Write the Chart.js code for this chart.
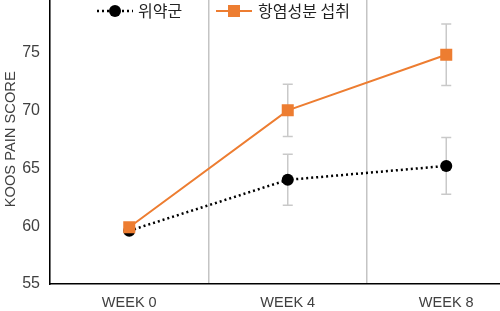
<!DOCTYPE html>
<html>
<head>
<meta charset="utf-8">
<script src="https://cdn.jsdelivr.net/npm/chart.js@4/dist/chart.umd.min.js"></script>
<style>
  html, body { margin: 0; padding: 0; background: #fff; overflow: hidden; }
  #wrap { position: absolute; left: 0; top: -25px; width: 534px; height: 336px; }
</style>
</head>
<body>
<div id="wrap"><canvas id="mycanvas"></canvas></div>
<script>
const weeks = ['WEEK 0', 'WEEK 4', 'WEEK 8'];
const placeboLabel = '위약군';
const placebo = [59.6, 64.0, 65.2];
const placeboErr = [0.3, 2.2, 2.45];
const treatLabel = '항염성분 섭취';
const treat = [59.9, 70.0, 74.8];
const treatErr = [0.4, 2.25, 2.65];
const yTicks = [55, 60, 65, 70, 75, 80];

const ORANGE = '#ED7D31';
const FONT = '"Liberation Sans", Arial, sans-serif';

// error bars, drawn under the lines
const errorBars = {
    id: 'errorBars',
    beforeDatasetsDraw(chart) {
        const ctx = chart.ctx;
        const x = chart.scales.x, y = chart.scales.y;
        const sets = [[placebo, placeboErr], [treat, treatErr]];
        ctx.save();
        ctx.strokeStyle = '#c9c9c9';
        ctx.lineWidth = 1.5;
        sets.forEach(function (s) {
            s[0].forEach(function (v, i) {
                const px = x.getPixelForValue(i);
                const top = y.getPixelForValue(v + s[1][i]);
                const bot = y.getPixelForValue(v - s[1][i]);
                ctx.beginPath();
                ctx.moveTo(px, top); ctx.lineTo(px, bot);
                ctx.moveTo(px - 5, top); ctx.lineTo(px + 5, top);
                ctx.moveTo(px - 5, bot); ctx.lineTo(px + 5, bot);
                ctx.stroke();
            });
        });
        ctx.restore();
    }
};

// legend drawn inside the plot, like the original figure
const innerLegend = {
    id: 'innerLegend',
    afterDraw(chart) {
        const ctx = chart.ctx;
        const ly = 36;
        ctx.save();
        // placebo
        ctx.strokeStyle = '#000';
        ctx.lineWidth = 2.5;
        ctx.setLineDash([2, 3]);
        ctx.beginPath(); ctx.moveTo(97, ly); ctx.lineTo(133, ly); ctx.stroke();
        ctx.setLineDash([]);
        ctx.fillStyle = '#000';
        ctx.beginPath(); ctx.arc(115, ly, 6, 0, Math.PI * 2); ctx.fill();
        // treatment
        ctx.strokeStyle = ORANGE;
        ctx.lineWidth = 2;
        ctx.beginPath(); ctx.moveTo(216, ly); ctx.lineTo(252, ly); ctx.stroke();
        ctx.fillStyle = ORANGE;
        ctx.fillRect(228, ly - 6, 12, 12);
        ctx.fillStyle = '#222';
        ctx.font = '16px "Noto Sans CJK KR", sans-serif';
        ctx.textBaseline = 'middle';
        ctx.fillText(placeboLabel, 138, ly);
        ctx.fillText(treatLabel, 258, ly);
        ctx.restore();
    }
};

const ctx = document.getElementById('mycanvas').getContext('2d');
const myChart = new Chart(ctx, {
    type: 'line',
    data: {
        labels: weeks,
        datasets: [{
            label: placeboLabel,
            data: placebo,
            borderColor: '#000',
            backgroundColor: '#000',
            borderWidth: 2.5,
            borderDash: [2, 3],
            pointStyle: 'circle',
            pointRadius: 6,
            pointBorderWidth: 0,
            order: 1
        }, {
            label: treatLabel,
            data: treat,
            borderColor: ORANGE,
            backgroundColor: ORANGE,
            borderWidth: 2,
            pointStyle: 'rect',
            pointRadius: 8.5,
            pointBorderWidth: 0,
            order: 0
        }]
    },
    options: {
        responsive: true,
        maintainAspectRatio: false,
        animation: false,
        layout: { padding: { top: 13, right: 2, left: 0, bottom: 0 } },
        plugins: { legend: { display: false }, tooltip: { enabled: false } },
        scales: {
            x: {
                offset: true,
                grid: { offset: true, color: '#c4c4c4', lineWidth: 1.5, drawTicks: false },
                border: { color: '#000', width: 1.5 },
                ticks: { color: '#404040', padding: 10, font: { family: FONT, size: 14.5 } },
                afterFit(s) { s.height = 27; }
            },
            y: {
                min: 55, max: 80,
                afterBuildTicks(s) { s.ticks = yTicks.map(v => ({ value: v })); },
                grid: { display: false, drawTicks: false },
                border: { color: '#000', width: 1.5 },
                ticks: { color: '#404040', padding: 10, font: { family: FONT, size: 16 } },
                title: { display: true, text: 'KOOS PAIN SCORE', color: '#404040', padding: 2,
                         font: { family: FONT, size: 14.7 } },
                afterFit(s) { s.width = 50; }
            }
        }
    },
    plugins: [errorBars, innerLegend]
});
</script>
</body>
</html>
